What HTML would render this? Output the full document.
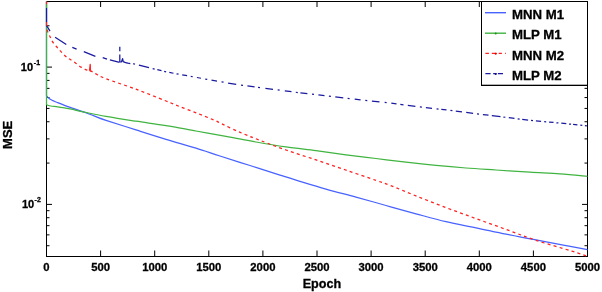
<!DOCTYPE html>
<html><head><meta charset="utf-8"><style>
html,body{margin:0;padding:0;background:#fff;width:602px;height:292px;overflow:hidden}
svg{display:block;filter:blur(0.35px)}
</style></head><body>
<svg width="602" height="292" viewBox="0 0 602 292">
<style>text{font-family:"Liberation Sans",Arial,sans-serif;font-weight:bold;fill:#000;stroke:#000;stroke-width:0.3px}</style>
<rect width="602" height="292" fill="#fff"/>
<path d="M46.50,256.5v-6M46.50,1.5v5.5M100.60,256.5v-6M100.60,1.5v5.5M154.70,256.5v-6M154.70,1.5v5.5M208.80,256.5v-6M208.80,1.5v5.5M262.90,256.5v-6M262.90,1.5v5.5M317.00,256.5v-6M317.00,1.5v5.5M371.10,256.5v-6M371.10,1.5v5.5M425.20,256.5v-6M425.20,1.5v5.5M479.30,256.5v-6M479.30,1.5v5.5M533.40,256.5v-6M533.40,1.5v5.5M587.50,256.5v-6M587.50,1.5v5.5M46.5,67.10h5.5M587.5,67.10h-5.5M46.5,204.40h5.5M587.5,204.40h-5.5M46.5,245.73h3M587.5,245.73h-3M46.5,234.86h3M587.5,234.86h-3M46.5,225.67h3M587.5,225.67h-3M46.5,217.71h3M587.5,217.71h-3M46.5,210.68h3M587.5,210.68h-3M46.5,163.07h3M587.5,163.07h-3M46.5,138.89h3M587.5,138.89h-3M46.5,121.74h3M587.5,121.74h-3M46.5,108.43h3M587.5,108.43h-3M46.5,97.56h3M587.5,97.56h-3M46.5,88.37h3M587.5,88.37h-3M46.5,80.41h3M587.5,80.41h-3M46.5,73.38h3M587.5,73.38h-3M46.5,25.77h3M587.5,25.77h-3M46.5,1.59h3M587.5,1.59h-3" stroke="#000" stroke-width="1" fill="none"/>
<rect x="46.5" y="1.5" width="541.0" height="255.0" fill="none" stroke="#000" stroke-width="1"/>
<path d="M46.5,1.5V95.6C46.62,95.75 46.87,96.13 47.20,96.50C47.53,96.87 47.90,97.30 48.50,97.80C49.10,98.30 49.83,98.93 50.80,99.50C51.77,100.07 53.15,100.68 54.30,101.20C55.45,101.72 56.00,101.92 57.70,102.60C59.40,103.28 62.22,104.43 64.50,105.30C66.78,106.17 69.48,107.12 71.40,107.80C73.32,108.48 74.00,108.72 76.00,109.40C78.00,110.08 80.40,110.82 83.40,111.90C86.40,112.98 90.23,114.50 94.00,115.90C97.77,117.30 99.00,117.97 106.00,120.30C113.00,122.63 126.00,126.73 136.00,129.90C146.00,133.07 156.00,136.27 166.00,139.30C176.00,142.33 187.00,145.32 196.00,148.10C205.00,150.88 211.00,153.10 220.00,156.00C229.00,158.90 240.00,162.32 250.00,165.50C260.00,168.68 272.33,172.67 280.00,175.10C287.67,177.53 288.33,177.77 296.00,180.10C303.67,182.43 316.00,186.27 326.00,189.10C336.00,191.93 346.00,194.32 356.00,197.05C366.00,199.78 376.00,202.71 386.00,205.50C396.00,208.29 406.00,211.10 416.00,213.80C426.00,216.50 436.00,219.37 446.00,221.70C456.00,224.03 466.00,225.72 476.00,227.80C486.00,229.88 496.00,232.18 506.00,234.20C516.00,236.22 526.00,238.00 536.00,239.90C546.00,241.80 557.42,243.98 566.00,245.60C574.58,247.22 583.92,248.93 587.50,249.60" fill="none" stroke="#4862ff" stroke-width="1.25" stroke-linejoin="round"/>
<path d="M46.5,1.5V104.7C46.65,104.77 46.68,104.88 47.40,105.10C48.12,105.32 49.08,105.72 50.80,106.00C52.52,106.28 55.42,106.48 57.70,106.80C59.98,107.12 62.22,107.50 64.50,107.90C66.78,108.30 68.32,108.55 71.40,109.20C74.48,109.85 77.23,110.60 83.00,111.80C88.77,113.00 97.17,114.83 106.00,116.40C114.83,117.97 126.00,119.67 136.00,121.20C146.00,122.73 156.00,123.97 166.00,125.60C176.00,127.23 186.00,129.22 196.00,131.00C206.00,132.78 216.00,134.47 226.00,136.30C236.00,138.13 246.00,140.23 256.00,142.00C266.00,143.77 276.00,145.45 286.00,146.90C296.00,148.35 306.00,149.38 316.00,150.70C326.00,152.02 336.00,153.50 346.00,154.80C356.00,156.10 366.00,157.27 376.00,158.50C386.00,159.73 396.00,161.05 406.00,162.20C416.00,163.35 426.00,164.43 436.00,165.40C446.00,166.37 456.00,167.23 466.00,168.00C476.00,168.77 485.33,169.30 496.00,170.00C506.67,170.70 519.33,171.57 530.00,172.20C540.67,172.83 550.42,173.12 560.00,173.80C569.58,174.48 582.92,175.88 587.50,176.30" fill="none" stroke="#40b440" stroke-width="1.25" stroke-linejoin="round"/>
<path d="M46.5,1.5V4.5M46.5,22V26" fill="none" stroke="#ff2020" stroke-width="1.25" stroke-linejoin="round"/>
<path d="M46.50,26.00C46.75,27.08 47.37,30.63 48.00,32.50C48.63,34.37 49.58,35.72 50.30,37.20C51.02,38.68 51.28,39.85 52.30,41.40C53.32,42.95 54.95,44.80 56.40,46.50C57.85,48.20 59.28,49.80 61.00,51.60C62.72,53.40 65.20,56.02 66.70,57.30C68.20,58.58 68.53,58.35 70.00,59.30C71.47,60.25 73.67,61.70 75.50,63.00C77.33,64.30 79.18,65.95 81.00,67.10C82.82,68.25 84.92,69.32 86.40,69.90C87.88,70.48 89.32,70.48 89.90,70.60" fill="none" stroke="#ff2020" stroke-width="1.25" stroke-linejoin="round" stroke-dasharray="3.0 3.2" stroke-dashoffset="-3.6"/>
<path d="M89.5,70.8L90.2,64.4L90.5,71.4" fill="none" stroke="#ff2020" stroke-width="1.25" stroke-linejoin="round"/>
<path d="M89.90,70.60C90.35,70.82 91.35,71.22 92.60,71.90C93.85,72.58 95.17,73.55 97.40,74.70C99.63,75.85 99.57,76.38 106.00,78.80C112.43,81.22 126.00,85.50 136.00,89.20C146.00,92.90 158.78,98.13 166.00,101.00C173.22,103.87 174.22,104.40 179.30,106.40C184.38,108.40 190.75,110.73 196.50,113.00C202.25,115.27 210.00,118.40 213.80,120.00C217.60,121.60 217.27,121.62 219.30,122.60C221.33,123.58 223.02,124.48 226.00,125.90C228.98,127.32 234.20,129.75 237.20,131.10C240.20,132.45 241.87,133.10 244.00,134.00C246.13,134.90 248.17,135.77 250.00,136.50C251.83,137.23 252.17,137.32 255.00,138.40C257.83,139.48 261.83,141.07 267.00,143.00C272.17,144.93 277.83,147.18 286.00,150.00C294.17,152.82 306.00,156.55 316.00,159.90C326.00,163.25 336.00,166.68 346.00,170.10C356.00,173.52 368.67,177.87 376.00,180.40C383.33,182.93 383.33,182.72 390.00,185.30C396.67,187.88 406.67,192.18 416.00,195.90C425.33,199.62 436.00,203.82 446.00,207.60C456.00,211.38 466.00,214.97 476.00,218.60C486.00,222.23 496.00,225.78 506.00,229.40C516.00,233.02 525.00,236.67 536.00,240.30C547.00,243.93 563.42,248.53 572.00,251.20C580.58,253.87 584.92,255.45 587.50,256.30" fill="none" stroke="#ff2020" stroke-width="1.25" stroke-linejoin="round" stroke-dasharray="3.0 3.2" stroke-dashoffset="0"/>
<path d="M46.5,4.5V8" fill="none" stroke="#40b440" stroke-width="1.25" stroke-linejoin="round"/>
<path d="M46.5,8V22" fill="none" stroke="#1a1aa0" stroke-width="1.25" stroke-linejoin="round"/>
<path d="M46.5,26L47.4,26.9L50,31.1M55.1,37.2L66.3,44.5M72.3,47.4L76.6,49.2M83.8,51.7L95.4,56.3M102.7,57.7L107,59.2M109.9,59.8L118.6,62.1L119.7,62.1" fill="none" stroke="#1a1aa0" stroke-width="1.25" stroke-linejoin="round"/>
<path d="M119.8,62V54.6M119.8,51.2V46.7" fill="none" stroke="#1a1aa0" stroke-width="1.25" stroke-linejoin="round"/>
<path d="M119.8,62L121.5,61.8L122.6,58.6L123.2,61.6L125,62.4L126.5,62.8L128,63.2L130.3,63.6" fill="none" stroke="#1a1aa0" stroke-width="1.25" stroke-linejoin="round"/>
<path d="M133.00,63.76L135.00,64.16M138.90,65.07L149.00,67.62M152.65,68.53L154.65,69.03M157.30,69.69L161.50,70.73M164.15,71.39L166.15,71.89M169.30,72.49L173.50,73.25M176.55,73.81L178.55,74.17M182.20,74.84L187.10,75.73M190.75,76.39L192.75,76.76M196.90,77.51L201.00,78.26M205.25,79.03L207.25,79.40M211.50,80.16L217.00,81.10M221.55,81.88L223.55,82.23M228.10,83.01L236.20,84.40M241.05,85.05L243.05,85.31M247.40,85.89L254.60,86.85M258.00,87.30L260.00,87.57M265.40,88.29L273.00,89.29M277.65,89.89L279.65,90.15M284.80,90.82L291.50,91.69M295.80,92.25L297.80,92.51M300.40,92.85L307.40,93.64M312.00,94.16L314.00,94.39M318.40,94.89L324.50,95.58M328.90,96.08L330.90,96.31M335.30,96.84L343.30,97.80M347.60,98.31L349.60,98.55M354.70,99.16L360.60,99.86M365.30,100.37L367.30,100.58M371.90,101.07L379.50,101.88M384.65,102.43L386.65,102.64M391.30,103.17L396.50,103.87M400.30,104.37L403.50,104.80M407.80,105.37L415.40,106.39M419.90,106.99L421.90,107.21M425.90,107.65L432.00,108.32M436.55,108.82L438.55,109.04M441.30,109.34L446.50,109.91M450.40,110.35L452.40,110.61M455.80,111.05L462.00,111.86M466.20,112.41L473.10,113.30M477.00,113.81L479.00,114.07M482.90,114.55L488.50,115.22M491.80,115.62L500.50,116.66M503.40,117.01L505.40,117.25M508.80,117.66L514.50,118.36M517.65,118.76L519.65,119.01M522.20,119.32L528.10,120.06M531.00,120.39L533.00,120.58M535.90,120.85L541.10,121.34M544.20,121.63L546.20,121.81M549.10,122.08L553.50,122.49M556.40,122.76L558.40,122.95M561.30,123.23L566.30,123.74M569.05,124.02L571.05,124.23M573.10,124.43L577.40,124.87M580.30,125.17L582.30,125.37M584.90,125.64L586.90,125.84" fill="none" stroke="#1a1aa0" stroke-width="1.25" stroke-linejoin="round"/>
<g font-size="11.3" text-anchor="middle">
<text x="46.50" y="271.2">0</text>
<text x="100.60" y="271.2">500</text>
<text x="154.70" y="271.2">1000</text>
<text x="208.80" y="271.2">1500</text>
<text x="262.90" y="271.2">2000</text>
<text x="317.00" y="271.2">2500</text>
<text x="371.10" y="271.2">3000</text>
<text x="425.20" y="271.2">3500</text>
<text x="479.30" y="271.2">4000</text>
<text x="533.40" y="271.2">4500</text>
<text x="587.50" y="271.2">5000</text>
</g>
<text x="20.8" y="70.6" font-size="11">10<tspan font-size="7" dx="0.8" dy="-5.4">-1</tspan></text>
<text x="21.95" y="207.7" font-size="11">10<tspan font-size="7" dx="0.35" dy="-5.4">-2</tspan></text>
<text x="302.7" y="288.3" font-size="12.6">Epoch</text>
<text transform="translate(11.9,134.8) rotate(-90)" text-anchor="middle" font-size="13">MSE</text>
<rect x="481.5" y="1.5" width="106" height="84" fill="#fff" stroke="#000" stroke-width="1"/>
<path d="M482,84.5H587" stroke="#000" stroke-opacity="0.3" stroke-width="1"/>
<path d="M485,12.7H506" stroke="#4862ff" stroke-width="1.4"/>
<text x="512.0" y="19.0" font-size="13.2">MNN M1</text>
<path d="M485,33.2H506" stroke="#40b440" stroke-width="1.4"/>
<circle cx="495.7" cy="33.6" r="1" fill="#1a8a1a"/>
<text x="512.0" y="39.3" font-size="13.2">MLP M1</text>
<path d="M485.4,53.4H488.9M491.8,53.4H496.7M498.7,53.4H501.9M505.2,53.4H506" stroke="#ff2020" stroke-width="1.4"/>
<circle cx="495.7" cy="53.8" r="1" fill="#e00000"/>
<text x="512.0" y="59.75" font-size="13.2">MNN M2</text>
<path d="M485.4,73.6H490.6M493.2,73.6H496.6M497.9,73.6H503" stroke="#1a1aa0" stroke-width="1.4"/>
<circle cx="495.7" cy="74.0" r="1" fill="#10107a"/>
<text x="512.0" y="80.3" font-size="13.2">MLP M2</text>
</svg>
</body></html>
